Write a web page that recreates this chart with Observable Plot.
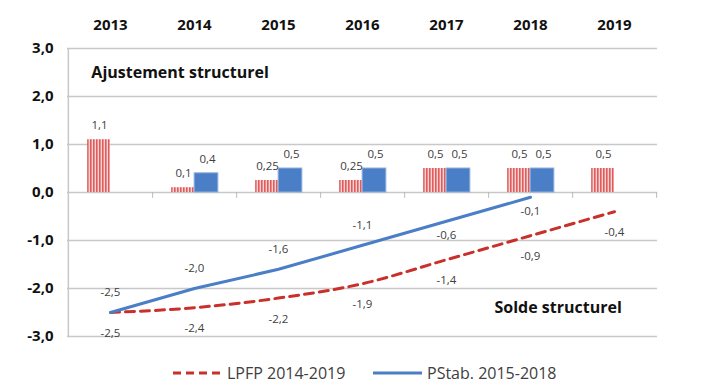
<!DOCTYPE html>
<html><head><meta charset="utf-8">
<script src="https://cdn.jsdelivr.net/npm/d3@7"></script>
<script src="https://cdn.jsdelivr.net/npm/@observablehq/plot@0.6"></script>
<style>
body{margin:0;background:#fff;font-family:"Open Sans",sans-serif;}
#wrap{width:701px;height:392px;position:relative;}
.legend{position:absolute;top:362px;left:0;width:701px;height:24px;font-size:16px;color:#404040;}
.legend .item{position:absolute;top:0;display:flex;align-items:center;}
</style></head>
<body><div id="wrap"><div id="chart"></div>
<div class="legend">
 <div class="item" style="left:172px"><svg width="52" height="20"><line x1="1" y1="10" x2="50" y2="10" stroke="#c9302c" stroke-width="3" stroke-dasharray="8,5"/></svg><span style="margin-left:3px">LPFP 2014-2019</span></div>
 <div class="item" style="left:372px"><svg width="52" height="20"><line x1="1" y1="10" x2="50" y2="10" stroke="#4a7ec6" stroke-width="3"/></svg><span style="margin-left:3px">PStab. 2015-2018</span></div>
</div></div>
<script>
const years = ["2013","2014","2015","2016","2017","2018","2019"];
const lpfpAdj = [1.1, 0.1, 0.25, 0.25, 0.5, 0.5, 0.5];
const pstabYears = ["2014","2015","2016","2017","2018"];
const pstabAdj = [0.4, 0.5, 0.5, 0.5, 0.5];
const lpfpSolde = [-2.5, -2.4, -2.2, -1.9, -1.4, -0.9, -0.4];
const pstabSoldeYears = ["2013","2014","2015","2016","2017","2018"];
const pstabSolde = [-2.5, -2.0, -1.6, -1.1, -0.6, -0.1];
const yTicks = [3, 2, 1, 0, -1, -2, -3];

const fmt = v => String(v).replace(".", ",");
const fmt1 = v => v.toFixed(1).replace(".", ",");

const redBars = years.map((y, i) => ({year: y, v: lpfpAdj[i]}));
const blueBars = pstabYears.map((y, i) => ({year: y, v: pstabAdj[i]}));
const redLine = years.map((y, i) => ({year: y, v: lpfpSolde[i]}));
const blueLine = pstabSoldeYears.map((y, i) => ({year: y, v: pstabSolde[i], i}));

const W = 701, H = 350, ML = 67, MR = 44;
const bw = (W - ML - MR) / years.length;
const half = bw / 2;

const chart = Plot.plot({
  width: W, height: H,
  marginLeft: ML, marginRight: MR, marginTop: 48, marginBottom: 14,
  style: {fontFamily: "Open Sans, sans-serif", background: "#fff"},
  x: {type: "band", domain: years, padding: 0},
  y: {domain: [-3, 3]},
  marks: [
    Plot.ruleY(yTicks, {stroke: "#c8c8c8", strokeWidth: 1.5}),
    Plot.ruleX([0], {x: () => years[0], dx: -half, y1: -3, y2: 3, stroke: "#c8c8c8", strokeWidth: 1.5}),
    Plot.ruleX(years, {x: d => d, dx: half, y1: 0, y2: -0.12, stroke: "#b8b8b8", strokeWidth: 1}),
    Plot.barY(redBars, {x: "year", y: "v", fill: "url(#stripes)", insetLeft: half - 23, insetRight: half}),
    Plot.barY(blueBars, {x: "year", y: "v", fill: "#4a7ec6", stroke: "#8fb0dc", strokeWidth: 1, insetLeft: half, insetRight: half - 24}),
    Plot.text(redBars, {x: "year", y: "v", text: d => fmt(d.v), dx: -11, dy: -14, fontSize: 11.5, fill: "#404040"}),
    Plot.text(blueBars, {x: "year", y: "v", text: d => fmt(d.v), dx: 13, dy: -14, fontSize: 11.5, fill: "#404040"}),
    Plot.line(redLine, {x: "year", y: "v", stroke: "#c9302c", strokeWidth: 3, strokeDasharray: "9,6", curve: "monotone-x"}),
    Plot.line(blueLine, {x: "year", y: "v", stroke: "#4a7ec6", strokeWidth: 3}),
    Plot.text(redLine, {x: "year", y: "v", text: d => fmt1(d.v), dy: 21, fontSize: 11.5, fill: "#404040"}),
    Plot.text(blueLine.filter(d => d.i < 4), {x: "year", y: "v", text: d => fmt1(d.v), dy: -20, fontSize: 11.5, fill: "#404040"}),
    Plot.text(blueLine.filter(d => d.i >= 4), {x: "year", y: "v", text: d => fmt1(d.v), dy: 14, fontSize: 11.5, fill: "#404040"}),
    Plot.axisX({anchor: "top", tickSize: 0, tickPadding: 19, fontSize: 15, fontWeight: "bold", fill: "#111", label: null}),
    Plot.axisY(yTicks, {tickSize: 0, tickPadding: 14, tickFormat: fmt1, fontSize: 15, fontWeight: "bold", fill: "#111", label: null}),
    Plot.text(["Ajustement structurel"], {x: () => years[0], y: () => 2.5, dx: -half + 23, textAnchor: "start", fontSize: 16, fontWeight: "bold", fill: "#111"}),
    Plot.text(["Solde structurel"], {x: () => years[5], y: () => -2.4, dx: -36, textAnchor: "start", fontSize: 16, fontWeight: "bold", fill: "#111"})
  ]
});
const ns = "http://www.w3.org/2000/svg";
const defs = document.createElementNS(ns, "defs");
defs.innerHTML = '<pattern id="stripes" patternUnits="userSpaceOnUse" width="3" height="4"><rect width="3" height="4" fill="#f8d3d3"/><rect width="1.6" height="4" fill="#e05c5c"/></pattern>';
chart.insertBefore(defs, chart.firstChild);
document.getElementById("chart").appendChild(chart);
</script></body></html>
